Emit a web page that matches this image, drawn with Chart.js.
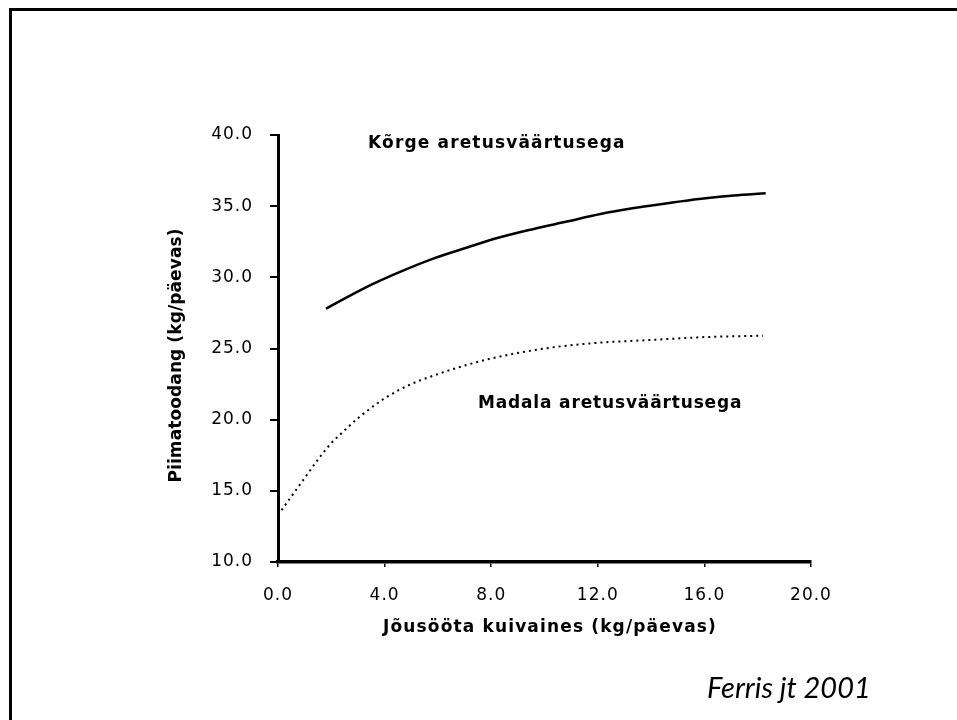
<!DOCTYPE html>
<html>
<head>
<meta charset="utf-8">
<script src="https://cdn.jsdelivr.net/npm/chart.js@4/dist/chart.umd.min.js"></script>
<style>
  html, body { margin: 0; padding: 0; background: #fff; }
  #wrap { width: 957px; height: 720px; position: relative; }
</style>
</head>
<body>
<div id="wrap"><canvas id="c" width="957" height="720"></canvas></div>
<script>
// ---- data ----
const xTickValues = [0, 4, 8, 12, 16, 20];
const yTickValues = [10, 15, 20, 25, 30, 35, 40];

const highLabel = 'Kõrge aretusväärtusega';
const highX = [1.8, 3.3, 4.6, 5.8, 7.1, 8.3, 9.6, 10.8, 12.1, 13.3, 14.6, 15.8, 17.1, 18.3];
const highY = [27.8, 29.3, 30.4, 31.3, 32.1, 32.8, 33.4, 33.9, 34.45, 34.85, 35.2, 35.5, 35.75, 35.9];

const lowLabel = 'Madala aretusväärtusega';
const lowX = [0, 0.5, 1, 1.5, 2, 2.5, 3, 4, 5, 6, 7, 8, 10, 12, 14, 16, 18.2];
const lowY = [13.3, 14.6, 15.9, 17.2, 18.35, 19.25, 20.1, 21.5, 22.5, 23.2, 23.8, 24.3, 25.0, 25.4, 25.6, 25.8, 25.9];

const xTitle = 'Jõusööta kuivaines (kg/päevas)';
const yTitle = 'Piimatoodang (kg/päevas)';
const sourceText = 'Ferris jt 2001';

const toPoints = (xs, ys) => xs.map((x, i) => ({ x: x, y: ys[i] }));

const SANS = '"DejaVu Sans", "Liberation Sans", Arial, sans-serif';
const TICK_SPACING = '1px';

const textPlugin = {
  id: 'texts',
  beforeUpdate(chart) { chart.ctx.letterSpacing = TICK_SPACING; },
  beforeLayout(chart) { chart.ctx.letterSpacing = TICK_SPACING; },
  beforeDraw(chart) {
    const ctx = chart.ctx;
    ctx.save();
    ctx.letterSpacing = '0px';
    ctx.fillStyle = '#ffffff';
    ctx.fillRect(0, 0, chart.width, chart.height);
    ctx.fillStyle = '#000000';
    ctx.fillRect(9, 8, chart.width - 9, 3);
    ctx.fillRect(9, 8, 3, chart.height - 8);
    ctx.restore();
    ctx.letterSpacing = TICK_SPACING;
  },
  afterDraw(chart) {
    const ctx = chart.ctx;
    const xs = chart.scales.x, ys = chart.scales.y;
    ctx.save();
    ctx.fillStyle = '#000';
    ctx.textAlign = 'left';
    ctx.textBaseline = 'alphabetic';
    ctx.font = 'bold 17px ' + SANS;
    // series labels
    ctx.letterSpacing = '1.15px';
    ctx.fillText(highLabel, xs.getPixelForValue(3.38), ys.getPixelForValue(39.09));
    ctx.letterSpacing = '0.85px';
    ctx.fillText(lowLabel, xs.getPixelForValue(7.5), ys.getPixelForValue(20.82));
    // x axis title
    ctx.letterSpacing = '1.15px';
    ctx.fillText(xTitle, 383, 632);
    // y axis title (rotated)
    ctx.save();
    ctx.translate(181, 355.5);
    ctx.rotate(-Math.PI / 2);
    ctx.textAlign = 'center';
    ctx.letterSpacing = '0.1px';
    ctx.fillText(yTitle, 0, 0);
    ctx.restore();
    // source
    ctx.letterSpacing = '0px';
    ctx.font = 'italic 29px Lato, "Open Sans", sans-serif';
    ctx.fillText(sourceText, 707, 698);
    ctx.restore();
    ctx.letterSpacing = TICK_SPACING;
  }
};

new Chart(document.getElementById('c'), {
  type: 'scatter',
  data: {
    datasets: [
      {
        label: highLabel,
        data: toPoints(highX, highY),
        showLine: true,
        borderColor: '#000',
        borderWidth: 2.5,
        pointRadius: 0,
        cubicInterpolationMode: 'monotone',
        fill: false
      },
      {
        label: lowLabel,
        data: toPoints(lowX, lowY),
        showLine: true,
        borderColor: '#000',
        borderWidth: 2,
        borderDash: [2, 4],
        pointRadius: 0,
        cubicInterpolationMode: 'monotone',
        fill: false
      }
    ]
  },
  options: {
    responsive: false,
    animation: false,
    devicePixelRatio: 1,
    layout: { padding: { left: 167, right: 146, top: 135, bottom: 83 } },
    plugins: { legend: { display: false }, tooltip: { enabled: false } },
    scales: {
      x: {
        type: 'linear',
        min: 0, max: 20,
        afterBuildTicks(scale) { scale.ticks = xTickValues.map(v => ({ value: v })); },
        afterFit(scale) { scale.height = 75; },
        border: { display: true, color: '#000', width: 3.5 },
        grid: { drawOnChartArea: false, drawTicks: true, tickLength: 5, color: '#000', lineWidth: 1.5 },
        ticks: {
          padding: 18,
          color: '#000',
          maxRotation: 0,
          font: { family: SANS, size: 17 },
          callback: v => Number(v).toFixed(1)
        },
        title: { display: false }
      },
      y: {
        type: 'linear',
        min: 10, max: 40,
        afterBuildTicks(scale) { scale.ticks = yTickValues.map(v => ({ value: v })); },
        afterFit(scale) { scale.width = 111; },
        border: { display: true, color: '#000', width: 3 },
        grid: { drawOnChartArea: false, drawTicks: true, tickLength: 8, color: '#000', lineWidth: 2 },
        ticks: {
          padding: 17,
          color: '#000',
          font: { family: SANS, size: 17 },
          callback: v => Number(v).toFixed(1)
        },
        title: { display: false }
      }
    }
  },
  plugins: [textPlugin]
});
</script>
</body>
</html>
